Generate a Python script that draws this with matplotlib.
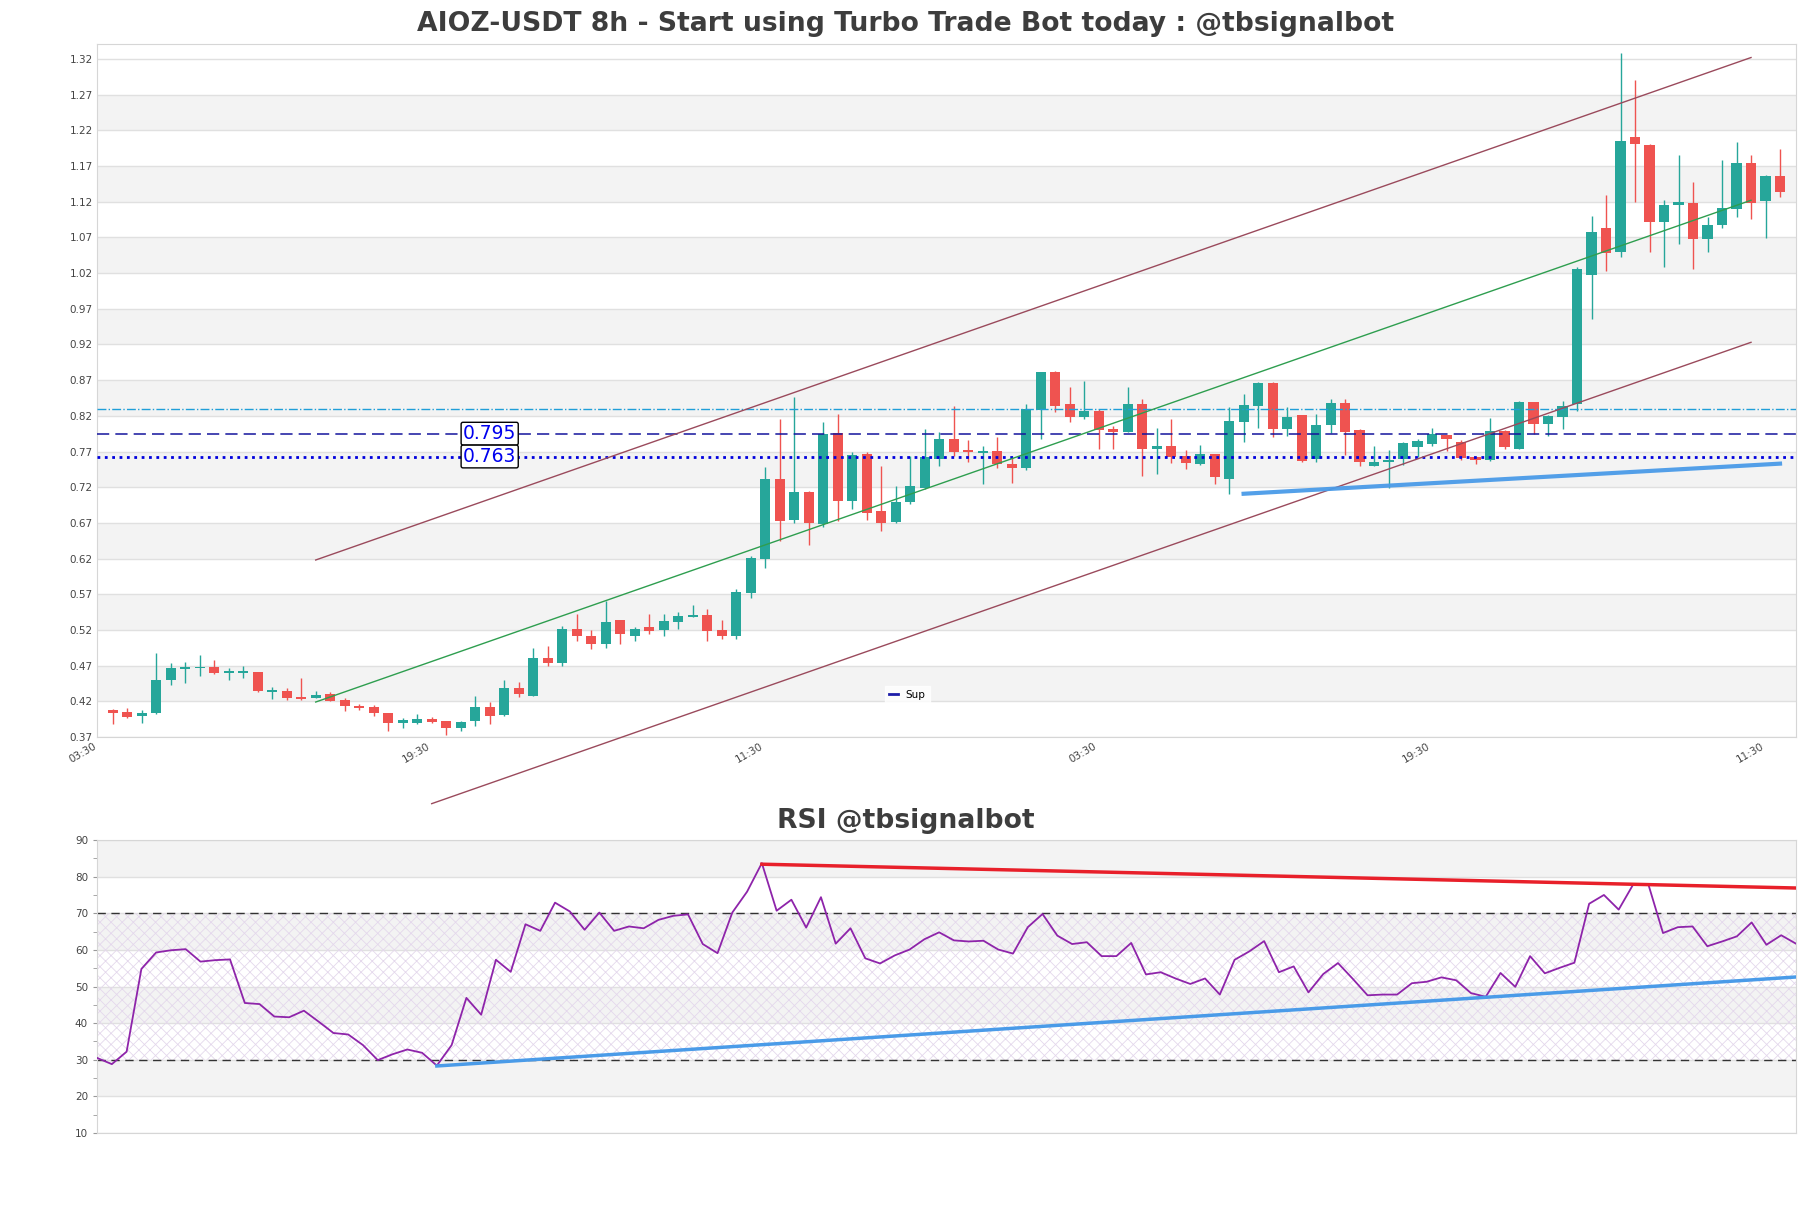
import numpy as np
import matplotlib
matplotlib.use("Agg")
import matplotlib.pyplot as plt
from matplotlib.lines import Line2D

# velas 8h (open, high, low, close)
opens = [0.408, 0.405, 0.399, 0.404, 0.450, 0.465, 0.466, 0.468, 0.460, 0.460,
         0.461, 0.433, 0.435, 0.426, 0.425, 0.430, 0.422, 0.414, 0.412, 0.404,
         0.390, 0.390, 0.395, 0.393, 0.383, 0.392, 0.412, 0.401, 0.439, 0.428,
         0.481, 0.474, 0.521, 0.511, 0.500, 0.534, 0.512, 0.524, 0.520, 0.531,
         0.538, 0.541, 0.520, 0.512, 0.572, 0.620, 0.732, 0.674, 0.713, 0.669,
         0.796, 0.700, 0.766, 0.686, 0.671, 0.699, 0.719, 0.759, 0.788, 0.771,
         0.768, 0.771, 0.753, 0.747, 0.828, 0.882, 0.836, 0.818, 0.827, 0.801,
         0.798, 0.837, 0.773, 0.778, 0.764, 0.753, 0.767, 0.732, 0.812, 0.834,
         0.866, 0.802, 0.821, 0.759, 0.807, 0.838, 0.800, 0.750, 0.755, 0.759,
         0.777, 0.781, 0.793, 0.784, 0.762, 0.758, 0.799, 0.774, 0.839, 0.808,
         0.819, 0.836, 1.017, 1.083, 1.050, 1.211, 1.200, 1.091, 1.116, 1.118,
         1.068, 1.087, 1.110, 1.174, 1.121, 1.156]
highs = [0.409, 0.411, 0.408, 0.487, 0.473, 0.475, 0.485, 0.478, 0.467, 0.469,
         0.461, 0.440, 0.438, 0.453, 0.435, 0.433, 0.425, 0.416, 0.415, 0.404,
         0.397, 0.402, 0.398, 0.393, 0.392, 0.428, 0.419, 0.450, 0.447, 0.494,
         0.497, 0.526, 0.542, 0.520, 0.560, 0.534, 0.524, 0.542, 0.542, 0.545,
         0.555, 0.549, 0.534, 0.577, 0.623, 0.748, 0.816, 0.846, 0.715, 0.812,
         0.823, 0.769, 0.769, 0.750, 0.721, 0.764, 0.801, 0.797, 0.834, 0.786,
         0.778, 0.790, 0.761, 0.837, 0.882, 0.883, 0.861, 0.869, 0.830, 0.806,
         0.861, 0.843, 0.803, 0.815, 0.772, 0.779, 0.767, 0.832, 0.851, 0.867,
         0.868, 0.832, 0.821, 0.823, 0.843, 0.843, 0.802, 0.778, 0.772, 0.784,
         0.788, 0.803, 0.793, 0.786, 0.762, 0.817, 0.800, 0.841, 0.839, 0.821,
         0.841, 1.028, 1.100, 1.129, 1.328, 1.291, 1.201, 1.123, 1.185, 1.147,
         1.098, 1.179, 1.204, 1.186, 1.158, 1.194]
lows = [0.388, 0.396, 0.390, 0.402, 0.443, 0.446, 0.456, 0.458, 0.450, 0.453,
        0.433, 0.423, 0.422, 0.422, 0.424, 0.420, 0.407, 0.408, 0.400, 0.378,
        0.382, 0.388, 0.390, 0.373, 0.378, 0.386, 0.388, 0.400, 0.426, 0.427,
        0.469, 0.469, 0.504, 0.493, 0.494, 0.500, 0.505, 0.515, 0.512, 0.522,
        0.538, 0.505, 0.508, 0.508, 0.565, 0.607, 0.645, 0.670, 0.639, 0.664,
        0.673, 0.689, 0.674, 0.659, 0.670, 0.697, 0.718, 0.750, 0.764, 0.755,
        0.725, 0.747, 0.726, 0.744, 0.788, 0.825, 0.812, 0.815, 0.774, 0.773,
        0.798, 0.736, 0.739, 0.754, 0.746, 0.751, 0.725, 0.710, 0.783, 0.803,
        0.791, 0.792, 0.756, 0.755, 0.796, 0.765, 0.750, 0.749, 0.719, 0.751,
        0.763, 0.778, 0.771, 0.758, 0.753, 0.757, 0.773, 0.773, 0.795, 0.792,
        0.801, 0.827, 0.955, 1.023, 1.042, 1.120, 1.050, 1.028, 1.061, 1.026,
        1.050, 1.083, 1.098, 1.096, 1.069, 1.127]
closes = [0.404, 0.398, 0.404, 0.450, 0.466, 0.467, 0.468, 0.460, 0.462, 0.463,
          0.435, 0.435, 0.425, 0.423, 0.429, 0.421, 0.413, 0.411, 0.403, 0.390,
          0.394, 0.395, 0.391, 0.383, 0.391, 0.412, 0.400, 0.439, 0.430, 0.480,
          0.474, 0.521, 0.512, 0.500, 0.531, 0.515, 0.521, 0.518, 0.532, 0.539,
          0.541, 0.519, 0.512, 0.573, 0.621, 0.732, 0.672, 0.713, 0.670, 0.795,
          0.700, 0.765, 0.684, 0.670, 0.699, 0.722, 0.762, 0.788, 0.770, 0.769,
          0.771, 0.752, 0.747, 0.830, 0.881, 0.834, 0.819, 0.827, 0.800, 0.798,
          0.837, 0.773, 0.778, 0.763, 0.754, 0.767, 0.734, 0.813, 0.835, 0.866,
          0.801, 0.818, 0.757, 0.807, 0.838, 0.797, 0.755, 0.755, 0.757, 0.782,
          0.785, 0.795, 0.787, 0.761, 0.758, 0.799, 0.777, 0.840, 0.808, 0.820,
          0.834, 1.026, 1.077, 1.048, 1.205, 1.201, 1.091, 1.115, 1.119, 1.068,
          1.088, 1.111, 1.174, 1.118, 1.156, 1.134]

rsi = [30.5, 28.8, 32.2, 54.8, 59.3, 59.9, 60.2, 56.8, 57.2, 57.4,
       45.5, 45.2, 41.8, 41.6, 43.4, 40.4, 37.3, 36.9, 34.0, 29.9,
       31.5, 32.8, 31.9, 28.4, 34.0, 46.9, 42.3, 57.3, 54.0, 67.0,
       65.2, 72.9, 70.5, 65.5, 70.2, 65.2, 66.4, 65.9, 68.2, 69.3,
       69.7, 61.6, 59.1, 70.2, 75.9, 83.7, 70.7, 73.7, 66.1, 74.4,
       61.7, 65.9, 57.7, 56.3, 58.5, 60.1, 62.9, 64.8, 62.6, 62.3,
       62.5, 60.1, 59.0, 66.2, 69.8, 63.9, 61.6, 62.1, 58.3, 58.3,
       61.9, 53.3, 53.9, 52.2, 50.7, 52.2, 47.8, 57.3, 59.6, 62.4,
       53.9, 55.5, 48.4, 53.4, 56.4, 52.1, 47.6, 47.8, 47.8, 50.9,
       51.3, 52.5, 51.7, 48.2, 47.2, 53.7, 49.9, 58.3, 53.6, 55.1,
       56.5, 72.6, 75.0, 71.0, 78.0, 78.0, 64.6, 66.2, 66.4, 61.0,
       62.3, 63.7, 67.5, 61.4, 64.0, 61.7]

# niveles y lineas de tendencia
level_top = 0.830
level_mid = 0.795
level_sup = 0.763
upper_x, upper_y = [14, 113], [0.618, 1.322]
lower_x, lower_y = [22, 113], [0.2766, 0.923]
middle_x, middle_y = [14, 113], [0.419, 1.122]
sup_x, sup_y = [78, 115], [0.7108, 0.753]
rsi_res_x, rsi_res_y = [45, 115], [83.4, 76.9]
rsi_sup_x, rsi_sup_y = [23, 115], [28.3, 52.6]

price_ticks = [0.37, 0.42, 0.47, 0.52, 0.57, 0.62, 0.67, 0.72, 0.77, 0.82,
               0.87, 0.92, 0.97, 1.02, 1.07, 1.12, 1.17, 1.22, 1.27, 1.32]
time_ticks = [-1, 22, 45, 68, 91, 114]
time_labels = ['03:30', '19:30', '11:30', '03:30', '19:30', '11:30']

verde = '#26a69a'
rojo = '#ef5350'
gris_txt = '#3d3d3d'

fig = plt.figure(figsize=(18.11, 12.08), dpi=100)
ax = fig.add_axes([0.0536, 0.3899, 0.9381, 0.5737])
ax2 = fig.add_axes([0.0536, 0.0621, 0.9381, 0.2425])
# los titulos van centrados en la figura, no en los ejes
x_centro = (0.5 - 0.0536) / 0.9381

# --- panel de precio ---
x = np.arange(len(opens))
o = np.array(opens)
h = np.array(highs)
l = np.array(lows)
c = np.array(closes)
colores = np.where(c >= o, verde, rojo)

for k in range(len(price_ticks) - 1):
    if k % 2 == 1:
        ax.axhspan(price_ticks[k], price_ticks[k + 1], color='#f3f3f3', zorder=0, lw=0)
for t in price_ticks:
    ax.axhline(t, color='#e0e0e0', lw=1, zorder=0.5)

ax.vlines(x, l, h, colors=colores, lw=1, zorder=2)
cuerpo = np.maximum(np.abs(c - o), 0.0025)
ax.bar(x, cuerpo, bottom=np.minimum(o, c), width=0.7, color=colores, zorder=3)

ax.axhline(level_top, color='#1f9ed8', lw=1, ls='-.', zorder=4)
ax.axhline(level_mid, color='#14149c', lw=1.1, ls=(0, (8, 4)), zorder=4)
ax.axhline(level_sup, color='#0000dd', lw=2, ls=':', zorder=4)
for val in [level_mid, level_sup]:
    ax.text(26, val, f'{val:.3f}', color='#0000ee', fontsize=13.5, ha='center', va='center',
            zorder=6, bbox=dict(boxstyle='round,pad=0.1', fc='white', ec='black', lw=1))

ax.plot(upper_x, upper_y, color='#9a4a5c', lw=1, zorder=4, clip_on=False)
ax.plot(lower_x, lower_y, color='#9a4a5c', lw=1, zorder=4, clip_on=False)
ax.plot(middle_x, middle_y, color='#2e9e4f', lw=1, zorder=4)
ax.plot(sup_x, sup_y, color='#4a9be8', lw=3, zorder=5, alpha=0.95)

ax.set_xlim(-1.08, 116.1)
ax.set_ylim(0.37, 1.341)
ax.set_yticks(price_ticks)
ax.set_yticklabels([f'{t:.2f}' for t in price_ticks])
ax.set_xticks(time_ticks)
ax.set_xticklabels(time_labels, rotation=30, ha='right')
ax.tick_params(axis='both', length=0, labelsize=7.5, labelcolor='#444444', pad=3)
for s in ax.spines.values():
    s.set_color('#d6d6d6')
ax.set_title('AIOZ-USDT 8h - Start using Turbo Trade Bot today : @tbsignalbot',
             fontsize=19.2, fontweight='bold', color=gris_txt, pad=9, x=x_centro)

sup_handle = Line2D([], [], color='#1c1ca8', lw=2)
leg = ax.legend([sup_handle], ['Sup'], loc='center', bbox_to_anchor=(0.477, 0.061),
                fontsize=7.5, handlelength=0.8, frameon=True, fancybox=False)
leg.get_frame().set_edgecolor('white')
leg.get_frame().set_facecolor('white')

# --- panel RSI ---
xr = np.arange(len(rsi))
for lo, hi in [(20, 30), (40, 50), (60, 70), (80, 90)]:
    ax2.axhspan(lo, hi, color='#f3f3f3', zorder=0, lw=0)
plt.rcParams['hatch.linewidth'] = 0.6
ax2.fill_between([0, len(rsi) - 1], 30, 70, facecolor='none', hatch='xxx',
                 edgecolor='#e4d8ec', lw=0, zorder=0.6)
for t in range(10, 91, 10):
    ax2.axhline(t, color='#e0e0e0', lw=1, zorder=0.5)
ax2.axhline(70, color='#333333', lw=1, ls=(0, (6, 4)), zorder=2)
ax2.axhline(30, color='#333333', lw=1, ls=(0, (6, 4)), zorder=2)
ax2.plot(xr, rsi, color='#8e24aa', lw=1.3, zorder=3)
ax2.plot(rsi_res_x, rsi_res_y, color='#e8202a', lw=2.5, zorder=4)
ax2.plot(rsi_sup_x, rsi_sup_y, color='#4a9be8', lw=2.5, zorder=4)

ax2.set_xlim(0, len(rsi) - 1)
ax2.set_ylim(10, 90)
ax2.set_yticks(range(10, 91, 10))
ax2.set_yticks(range(15, 90, 10), minor=True)
ax2.set_xticks([])
ax2.tick_params(axis='y', which='major', length=3, labelsize=7.5, labelcolor='#444444',
                color='#999999')
ax2.tick_params(axis='y', which='minor', length=3, color='#999999')
for s in ax2.spines.values():
    s.set_color('#d6d6d6')
ax2.set_title('RSI @tbsignalbot', fontsize=19.2, fontweight='bold', color=gris_txt,
              pad=9, x=x_centro)

fig.savefig('out.png', dpi=100)
